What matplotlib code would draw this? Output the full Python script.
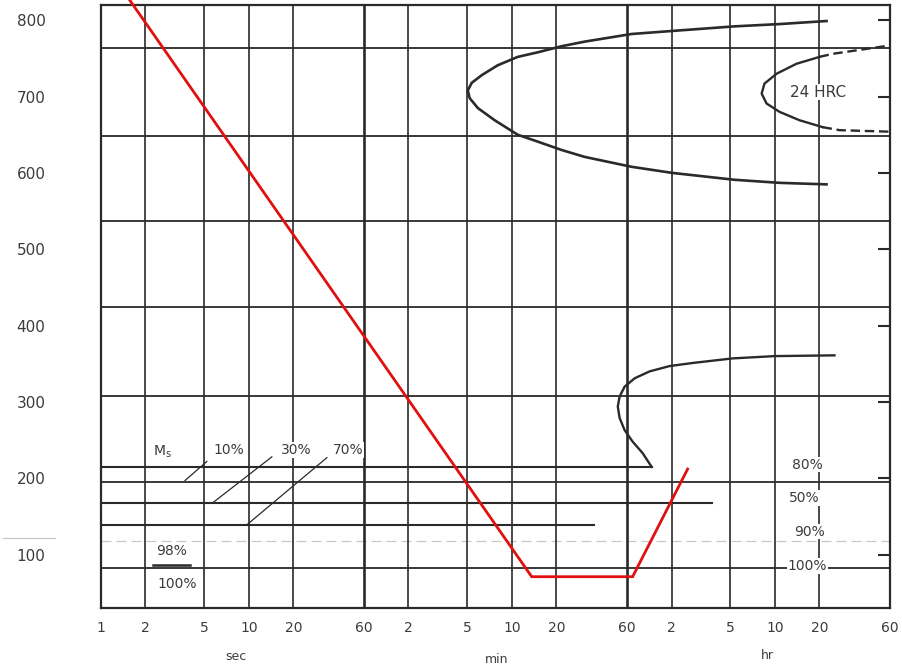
import matplotlib
matplotlib.use('Agg')
import matplotlib.pyplot as plt

plt.rcParams['font.family'] = ['DejaVu Sans']

# 时间轴刻度（秒）
tick_sec = [1, 2, 5, 10, 20, 60, 120, 300, 600, 1200, 3600, 7200, 18000, 36000, 72000, 216000]
tick_lbl = ['1', '2', '5', '10', '20', '60', '2', '5', '10', '20', '60', '2', '5', '10', '20', '60']
temp_ticks = [100, 200, 300, 400, 500, 600, 700, 800]

# 网格等温线
grid_T = [763, 648, 537, 424, 308, 195, 83]
# 马氏体线 (Ms, 30%, 70%) 及其终点时间
mart_T = [215, 168, 139]
mart_end = [5280, 13600, 2140]
faint_T = 118

# 珠光体 C 曲线
pearl_t = [80400, 38700, 19200, 7300, 3870, 1862, 1303, 897, 657, 481, 375, 321, 302,
           311, 353, 459, 657, 897, 1303, 1862, 3870, 7300, 19200, 38700, 80400]
pearl_T = [799, 795, 792, 786, 782, 772, 766, 758, 752, 741, 728, 718, 708,
           698, 685, 669, 650, 641, 630, 621, 608, 600, 591, 587, 585]

# 24 HRC 曲线
hrc_t = [72100, 50400, 37000, 30600, 29300, 31600, 38700, 52800, 75600]
hrc_T = [752, 743, 730, 717, 704, 691, 680, 669, 660]
hrc_top_t = [72100, 88300, 216000]
hrc_top_T = [752, 756, 767]
hrc_bot_t = [75600, 98500, 216000]
hrc_bot_T = [660, 656, 654]

# 贝氏体曲线
bain_t = [91000, 35800, 18600, 10000, 7000, 5120, 4060, 3470, 3210, 3120,
          3210, 3470, 3930, 4590, 5280]
bain_T = [361, 360, 357, 351, 347, 340, 331, 320, 307, 294,
          279, 263, 248, 233, 215]

# 冷却路径（红线）
cool_t = [1.57, 817, 3930, 9250]
cool_T = [826, 71, 71, 212]

ink = '#2a2a2a'
txt = '#3c3c3c'

fig = plt.figure(figsize=(9.03, 6.65), dpi=100)
ax = fig.add_axes([0.1118, 0.0857, 0.8738, 0.9068])
ax.set_xscale('log')
ax.set_xlim(1, 216000)
ax.set_ylim(30, 820)

for s in ax.spines.values():
    s.set_color(ink)
    s.set_linewidth(1.6)

# 竖向网格
for t in tick_sec[1:-1]:
    lw = 1.9 if t in (60, 3600) else 1.2
    ax.axvline(t, color=ink, lw=lw, zorder=1)

# 横向网格
for T in grid_T:
    ax.axhline(T, color=ink, lw=1.3, zorder=1)
for T, te in zip(mart_T, mart_end):
    ax.plot([1, te], [T, T], color=ink, lw=1.5, zorder=2)
ax.axhline(faint_T, color='#c8c8c8', lw=0.9, ls=(0, (8, 4)), zorder=0)
ax.plot([0.218, 0.489], [faint_T + 4, faint_T + 4], color='#c8c8c8', lw=0.9, clip_on=False)

# 曲线
ax.plot(pearl_t, pearl_T, color=ink, lw=1.9, zorder=3, solid_joinstyle='round')
ax.plot(hrc_t, hrc_T, color=ink, lw=1.7, zorder=3, solid_joinstyle='round')
ax.plot(hrc_top_t, hrc_top_T, color=ink, lw=1.7, ls=(0, (4, 2)), zorder=3)
ax.plot(hrc_bot_t, hrc_bot_T, color=ink, lw=1.7, ls=(0, (4, 2)), zorder=3)
ax.plot(bain_t, bain_T, color=ink, lw=1.7, zorder=3, solid_joinstyle='round')

# 引线
ax.plot([3.70, 5.20], [197, 222], color=ink, lw=0.9, zorder=3)
ax.plot([5.71, 14.3], [168, 228], color=ink, lw=0.9, zorder=3)
ax.plot([9.69, 33.7], [139, 227], color=ink, lw=0.9, zorder=3)
ax.plot([2.25, 3.99], [86, 86], color=ink, lw=1.8, zorder=3)

# 文字标注
box = dict(facecolor='white', edgecolor='none', pad=0.5)
kw = dict(color=txt, fontsize=10, ha='center', va='center', zorder=4)
ax.text(2.62, 235, r'M$_\mathregular{s}$', **kw)
ax.text(7.3, 237, '10%', bbox=box, **kw)
ax.text(20.8, 237, '30%', bbox=box, **kw)
ax.text(46.7, 237, '70%', bbox=box, **kw)
ax.text(3.02, 105, '98%', **kw)
ax.text(3.26, 61, '100%', **kw)
ax.text(59800, 218, '80%', bbox=box, **kw)
ax.text(57100, 174, '50%', bbox=box, **kw)
ax.text(61800, 130, '90%', bbox=box, **kw)
ax.text(59800, 85, '100%', bbox=box, **kw)
ax.text(70000, 706, '24 HRC', color=txt, fontsize=11, ha='center', va='center',
        bbox=box, zorder=4)

# 冷却路径
ax.plot(cool_t, cool_T, color='#e01010', lw=2.0, zorder=5, clip_on=False,
        solid_joinstyle='miter')

# 坐标刻度
ax.set_xticks(tick_sec)
ax.set_xticklabels(tick_lbl)
ax.minorticks_off()
ax.set_yticks(temp_ticks)
ax.tick_params(axis='x', length=0, pad=9, labelsize=10, labelcolor=txt)
ax.tick_params(axis='y', left=False, right=True, direction='in', length=9,
               width=1.5, color=ink, pad=40, labelsize=11, labelcolor=txt)

xt = ax.get_xaxis_transform()
ax.text(8.2, -0.081, 'sec', transform=xt, ha='center', va='center', fontsize=9, color=txt)
ax.text(474, -0.085, 'min', transform=xt, ha='center', va='center', fontsize=9, color=txt)
ax.text(32100, -0.078, 'hr', transform=xt, ha='center', va='center', fontsize=9, color=txt)

fig.savefig('out.png', dpi=100, facecolor='white')
plt.close(fig)
